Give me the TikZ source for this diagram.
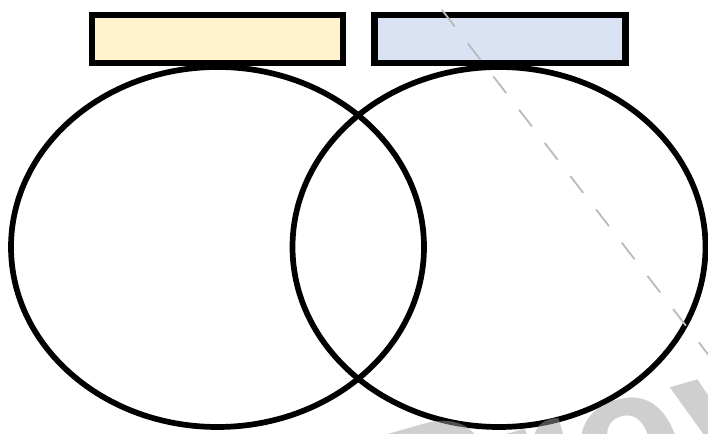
\documentclass[tikz,border=0pt]{standalone}
\usepackage{fontspec}
\newfontfamily\markfont{Liberation Sans}
\usetikzlibrary{shapes.geometric}

\definecolor{setAfill}{HTML}{FFF2CC}
\definecolor{setBfill}{HTML}{DAE3F3}
\definecolor{markgray}{RGB}{159,159,159}

\begin{document}
\begin{tikzpicture}[
  x=1pt, y=-1pt,
  label box/.style={draw=black, line width=6.5pt, minimum width=251pt, minimum height=48pt, inner sep=0pt},
  set ring/.style={ellipse, draw=black, line width=5.7pt, minimum width=413pt, minimum height=360pt, inner sep=0pt},
  guide/.style={draw=black!27, line width=1.8pt, dash pattern=on 21pt off 21pt},
  watermark/.style={text=markgray, text opacity=0.5, font=\markfont\bfseries\fontsize{200}{200}\selectfont, inner sep=0pt}
]
\useasboundingbox (0,0) rectangle (708,433);

% === HEADER BOXES ===
\node[label box, fill=setAfill] (headA) at (217.5, 39) {};
\node[label box, fill=setBfill] (headB) at (500, 39) {};

% === THE TWO SETS ===
\node[set ring] (setA) at (217.5, 247) {};
\node[set ring] (setB) at (499, 247) {};

% === WATERMARK ===
\begin{scope}
  \clip (0,0) rectangle (708,433);
  \coordinate (guideStart) at (442, 10);
  \coordinate (guideEnd) at (758, 419);
  \draw[guide] (guideStart) -- (guideEnd);
  \node[watermark, rotate=16, anchor=base west] (mark) at (388, 578) {Preview};
\end{scope}

\end{tikzpicture}
\end{document}
